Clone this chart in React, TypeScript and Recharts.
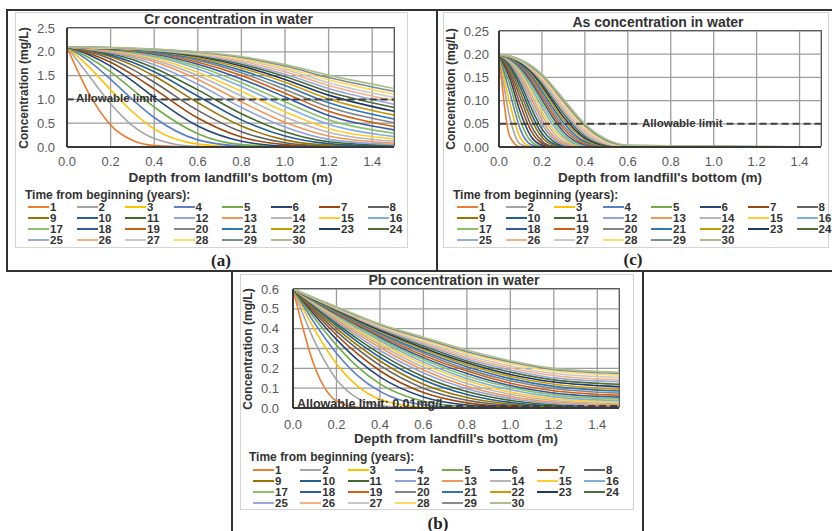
import React from "react";
import { CartesianGrid, Line, LineChart, ReferenceLine, XAxis, YAxis } from "recharts";

const FONT = '"Liberation Sans", Arial, sans-serif';

const years = [
  1, 2, 3, 4, 5, 6, 7, 8, 9, 10, 11, 12, 13, 14, 15,
  16, 17, 18, 19, 20, 21, 22, 23, 24, 25, 26, 27, 28, 29, 30,
];

const seriesColors = [
  "#ED7D31", "#A5A5A5", "#FFC000", "#5B7FC8", "#70AD47", "#264478", "#9E480E", "#636363",
  "#997300", "#255E91", "#43682B", "#8FA2DA", "#F1975A", "#B7B7B7", "#FFCD33", "#7CAFDD",
  "#8CC168", "#335AA1", "#D26012", "#848484", "#2E75B6", "#CC9A00", "#1F3864", "#4E6E3A",
  "#9AA8DC", "#F4B183", "#C9C9C9", "#FFD966", "#7F8C8D", "#A9C191",
];

const depthTicks = [0, 0.2, 0.4, 0.6, 0.8, 1.0, 1.2, 1.4];

// Cr
const crDepth = [0, 0.1, 0.2, 0.3, 0.4, 0.6, 0.8, 1.0, 1.2, 1.5];
const crTicks = [0, 0.5, 1.0, 1.5, 2.0, 2.5];
const crValues = [
  [2.1, 1.13, 0.46, 0.14, 0.03, 0, 0, 0, 0, 0],
  [2.1, 1.5, 0.91, 0.45, 0.18, 0.01, 0, 0, 0, 0],
  [2.1, 1.69, 1.2, 0.74, 0.38, 0.06, 0, 0, 0, 0],
  [2.1, 1.81, 1.42, 1.0, 0.62, 0.15, 0.02, 0, 0, 0],
  [2.1, 1.88, 1.58, 1.21, 0.84, 0.28, 0.05, 0.01, 0, 0],
  [2.1, 1.94, 1.7, 1.39, 1.04, 0.44, 0.12, 0.02, 0, 0],
  [2.1, 1.97, 1.78, 1.52, 1.22, 0.61, 0.21, 0.05, 0.01, 0],
  [2.1, 2.0, 1.85, 1.63, 1.36, 0.77, 0.32, 0.09, 0.02, 0],
  [2.1, 2.02, 1.9, 1.72, 1.49, 0.93, 0.44, 0.15, 0.04, 0.01],
  [2.1, 2.04, 1.93, 1.78, 1.58, 1.07, 0.57, 0.23, 0.07, 0.01],
  [2.1, 2.05, 1.96, 1.84, 1.66, 1.2, 0.7, 0.32, 0.11, 0.03],
  [2.1, 2.05, 1.98, 1.88, 1.73, 1.32, 0.83, 0.42, 0.16, 0.05],
  [2.1, 2.06, 2.0, 1.91, 1.79, 1.42, 0.95, 0.52, 0.23, 0.08],
  [2.1, 2.07, 2.02, 1.94, 1.83, 1.5, 1.07, 0.63, 0.31, 0.12],
  [2.1, 2.07, 2.03, 1.96, 1.87, 1.57, 1.17, 0.74, 0.39, 0.17],
  [2.1, 2.08, 2.04, 1.98, 1.9, 1.64, 1.27, 0.85, 0.48, 0.22],
  [2.1, 2.08, 2.05, 2.0, 1.92, 1.69, 1.35, 0.95, 0.57, 0.29],
  [2.1, 2.08, 2.05, 2.01, 1.95, 1.74, 1.43, 1.05, 0.66, 0.36],
  [2.1, 2.09, 2.06, 2.02, 1.97, 1.78, 1.5, 1.13, 0.75, 0.43],
  [2.1, 2.09, 2.06, 2.03, 1.98, 1.82, 1.56, 1.21, 0.84, 0.51],
  [2.1, 2.09, 2.07, 2.04, 1.99, 1.85, 1.61, 1.29, 0.93, 0.59],
  [2.1, 2.09, 2.07, 2.04, 2.01, 1.87, 1.66, 1.36, 1.01, 0.67],
  [2.1, 2.09, 2.07, 2.05, 2.02, 1.9, 1.7, 1.42, 1.09, 0.75],
  [2.1, 2.09, 2.08, 2.05, 2.02, 1.92, 1.74, 1.48, 1.16, 0.83],
  [2.1, 2.09, 2.08, 2.06, 2.03, 1.94, 1.77, 1.53, 1.23, 0.9],
  [2.1, 2.09, 2.08, 2.06, 2.04, 1.95, 1.8, 1.58, 1.29, 0.97],
  [2.1, 2.09, 2.08, 2.07, 2.04, 1.96, 1.83, 1.63, 1.35, 1.04],
  [2.1, 2.09, 2.08, 2.07, 2.05, 1.98, 1.85, 1.66, 1.41, 1.11],
  [2.1, 2.1, 2.09, 2.07, 2.05, 1.99, 1.88, 1.7, 1.46, 1.17],
  [2.1, 2.1, 2.09, 2.08, 2.06, 2.0, 1.9, 1.73, 1.51, 1.23],
];

// As
const asDepth = [0, 0.05, 0.1, 0.15, 0.2, 0.25, 0.3, 0.4, 0.5, 0.6, 1.5];
const asTicks = [0, 0.05, 0.1, 0.15, 0.2, 0.25];
const asValues = [
  [0.2, 0.023, 0, 0, 0, 0, 0, 0, 0, 0, 0],
  [0.2, 0.064, 0.006, 0, 0, 0, 0, 0, 0, 0, 0],
  [0.2, 0.095, 0.019, 0.001, 0, 0, 0, 0, 0, 0, 0],
  [0.2, 0.118, 0.037, 0.005, 0, 0, 0, 0, 0, 0, 0],
  [0.2, 0.135, 0.056, 0.012, 0.001, 0, 0, 0, 0, 0, 0],
  [0.2, 0.148, 0.074, 0.022, 0.004, 0, 0, 0, 0, 0, 0],
  [0.2, 0.157, 0.09, 0.034, 0.008, 0.001, 0, 0, 0, 0, 0],
  [0.2, 0.164, 0.105, 0.046, 0.013, 0.002, 0, 0, 0, 0, 0],
  [0.2, 0.17, 0.117, 0.06, 0.021, 0.005, 0.001, 0, 0, 0, 0],
  [0.2, 0.174, 0.128, 0.072, 0.029, 0.008, 0.002, 0, 0, 0, 0],
  [0.2, 0.178, 0.137, 0.084, 0.039, 0.013, 0.003, 0, 0, 0, 0],
  [0.2, 0.181, 0.144, 0.095, 0.049, 0.019, 0.005, 0, 0, 0, 0],
  [0.2, 0.184, 0.151, 0.105, 0.059, 0.025, 0.008, 0, 0, 0, 0],
  [0.2, 0.185, 0.156, 0.113, 0.068, 0.033, 0.012, 0.001, 0, 0, 0],
  [0.2, 0.187, 0.161, 0.121, 0.077, 0.04, 0.017, 0.001, 0, 0, 0],
  [0.2, 0.188, 0.165, 0.128, 0.086, 0.048, 0.022, 0.002, 0, 0, 0],
  [0.2, 0.189, 0.168, 0.135, 0.094, 0.056, 0.027, 0.003, 0, 0, 0],
  [0.2, 0.19, 0.171, 0.14, 0.102, 0.064, 0.033, 0.005, 0, 0, 0],
  [0.2, 0.191, 0.174, 0.145, 0.109, 0.071, 0.04, 0.007, 0.001, 0, 0],
  [0.2, 0.192, 0.176, 0.15, 0.115, 0.078, 0.046, 0.01, 0.001, 0, 0],
  [0.2, 0.193, 0.178, 0.154, 0.121, 0.085, 0.053, 0.012, 0.002, 0, 0],
  [0.2, 0.193, 0.18, 0.158, 0.127, 0.092, 0.059, 0.016, 0.002, 0, 0],
  [0.2, 0.194, 0.181, 0.161, 0.132, 0.098, 0.065, 0.019, 0.003, 0, 0],
  [0.2, 0.194, 0.183, 0.164, 0.137, 0.104, 0.072, 0.023, 0.004, 0, 0],
  [0.2, 0.195, 0.184, 0.166, 0.141, 0.11, 0.078, 0.027, 0.006, 0.001, 0],
  [0.2, 0.195, 0.185, 0.168, 0.145, 0.115, 0.083, 0.032, 0.007, 0.001, 0],
  [0.2, 0.195, 0.186, 0.171, 0.148, 0.12, 0.089, 0.037, 0.009, 0.001, 0],
  [0.2, 0.196, 0.187, 0.173, 0.151, 0.124, 0.095, 0.041, 0.012, 0.002, 0],
  [0.2, 0.196, 0.188, 0.174, 0.154, 0.128, 0.099, 0.046, 0.014, 0.003, 0],
  [0.2, 0.196, 0.188, 0.176, 0.157, 0.132, 0.104, 0.05, 0.017, 0.004, 0],
];

// Pb
const pbDepth = [0, 0.1, 0.2, 0.3, 0.4, 0.6, 0.8, 1.0, 1.2, 1.5];
const pbTicks = [0, 0.1, 0.2, 0.3, 0.4, 0.5, 0.6];
const pbValues = [
  [0.6, 0.207, 0.036, 0.003, 0, 0, 0, 0, 0, 0],
  [0.6, 0.335, 0.144, 0.047, 0.011, 0, 0, 0, 0, 0],
  [0.6, 0.394, 0.223, 0.108, 0.044, 0.004, 0, 0, 0, 0],
  [0.6, 0.427, 0.276, 0.161, 0.084, 0.016, 0.002, 0, 0, 0],
  [0.6, 0.451, 0.317, 0.205, 0.122, 0.034, 0.007, 0.001, 0, 0],
  [0.6, 0.468, 0.346, 0.24, 0.157, 0.056, 0.015, 0.003, 0, 0],
  [0.6, 0.48, 0.368, 0.27, 0.188, 0.078, 0.026, 0.007, 0.001, 0],
  [0.6, 0.491, 0.386, 0.294, 0.215, 0.1, 0.039, 0.013, 0.004, 0.001],
  [0.6, 0.499, 0.402, 0.314, 0.237, 0.12, 0.053, 0.02, 0.006, 0.002],
  [0.6, 0.507, 0.415, 0.331, 0.256, 0.141, 0.068, 0.028, 0.011, 0.004],
  [0.6, 0.511, 0.426, 0.346, 0.274, 0.158, 0.083, 0.038, 0.016, 0.006],
  [0.6, 0.517, 0.436, 0.36, 0.29, 0.177, 0.097, 0.048, 0.023, 0.011],
  [0.6, 0.522, 0.444, 0.371, 0.305, 0.192, 0.11, 0.058, 0.03, 0.016],
  [0.6, 0.525, 0.452, 0.382, 0.318, 0.206, 0.124, 0.069, 0.038, 0.022],
  [0.6, 0.528, 0.458, 0.391, 0.328, 0.22, 0.137, 0.08, 0.046, 0.028],
  [0.6, 0.532, 0.464, 0.4, 0.339, 0.232, 0.149, 0.092, 0.056, 0.037],
  [0.6, 0.534, 0.469, 0.407, 0.348, 0.244, 0.161, 0.104, 0.066, 0.045],
  [0.6, 0.537, 0.474, 0.415, 0.357, 0.254, 0.174, 0.113, 0.076, 0.055],
  [0.6, 0.539, 0.478, 0.421, 0.365, 0.265, 0.186, 0.125, 0.087, 0.064],
  [0.6, 0.541, 0.483, 0.427, 0.372, 0.276, 0.196, 0.137, 0.098, 0.075],
  [0.6, 0.543, 0.486, 0.431, 0.378, 0.285, 0.208, 0.148, 0.109, 0.086],
  [0.6, 0.545, 0.49, 0.436, 0.385, 0.295, 0.218, 0.159, 0.12, 0.095],
  [0.6, 0.546, 0.493, 0.44, 0.391, 0.303, 0.228, 0.169, 0.131, 0.108],
  [0.6, 0.547, 0.496, 0.445, 0.397, 0.312, 0.237, 0.181, 0.142, 0.12],
  [0.6, 0.549, 0.499, 0.449, 0.402, 0.321, 0.247, 0.192, 0.152, 0.133],
  [0.6, 0.551, 0.502, 0.453, 0.407, 0.328, 0.256, 0.202, 0.164, 0.143],
  [0.6, 0.552, 0.504, 0.457, 0.411, 0.334, 0.266, 0.212, 0.174, 0.155],
  [0.6, 0.553, 0.506, 0.461, 0.416, 0.343, 0.276, 0.223, 0.185, 0.166],
  [0.6, 0.554, 0.508, 0.463, 0.42, 0.35, 0.284, 0.232, 0.194, 0.174],
  [0.6, 0.555, 0.51, 0.466, 0.424, 0.357, 0.292, 0.238, 0.2, 0.18],
];

function buildRows(depth: number[], values: number[][]) {
  return depth.map((x, i) => {
    const row: Record<string, number> = { x };
    values.forEach((v, k) => {
      row[`t${k + 1}`] = v[i];
    });
    return row;
  });
}

type PanelSpec = {
  title: string;
  depth: number[];
  values: number[][];
  yTicks: number[];
  yMax: number;
  yDecimals: number;
  plotX: number;
  plotY: number;
  plotW: number;
  plotH: number;
  yGap: number;
  xGap: number;
  yTitleX: number;
  limit: number;
  limitSegments: number[][];
  limitText: string;
  limitTextX: number;
  limitTextDy: number;
  limitTextSize: number;
  legendX: number;
  legendHeadX: number;
  legendHeadY: number;
  legendPitch: number;
  legendRows: number[];
};

const txt = (
  x: number,
  y: number,
  s: string,
  size: number,
  opts: { bold?: boolean; anchor?: "start" | "middle"; color?: string; rotate?: boolean; family?: string } = {},
) => (
  <div
    style={{
      position: "absolute",
      left: x,
      top: y,
      transform: `translate(${opts.anchor === "start" ? "0" : "-50%"}, -50%)${opts.rotate ? " rotate(-90deg)" : ""}`,
      whiteSpace: "nowrap",
      fontSize: size,
      fontWeight: opts.bold ? 700 : 400,
      color: opts.color ?? "#333",
      lineHeight: 1,
      fontFamily: opts.family ?? FONT,
    }}
  >
    {s}
  </div>
);

function Panel({ spec }: { spec: PanelSpec }) {
  const { plotX, plotY, plotW, plotH } = spec;
  const padL = 60;
  const padT = 10;
  const padR = 10;
  const padB = 34;
  const rows = buildRows(spec.depth, spec.values);
  const limitY = plotY + plotH - (spec.limit / spec.yMax) * plotH;
  const bottom = plotY + plotH;
  const cx = plotX + plotW / 2;

  return (
    <>
      {txt(cx - 2, plotY - 9, spec.title, 14, { bold: true })}
      <div style={{ position: "absolute", left: plotX - padL, top: plotY - padT }}>
        <LineChart
          width={plotW + padL + padR}
          height={plotH + padT + padB}
          data={rows}
          margin={{ top: padT, right: padR, bottom: 0, left: 0 }}
        >
          <CartesianGrid stroke="#9d9d9d" strokeWidth={1.3} />
          <XAxis
            type="number"
            dataKey="x"
            domain={[0, 1.5]}
            ticks={depthTicks}
            interval={0}
            height={padB}
            tickLine={false}
            tickSize={0}
            tickMargin={spec.xGap}
            axisLine={{ stroke: "#3a3a3a", strokeWidth: 2 }}
            tick={{ fill: "#595959", fontSize: 13, fontFamily: FONT }}
            tickFormatter={(v: number) => v.toFixed(1)}
          />
          <YAxis
            type="number"
            domain={[0, spec.yMax]}
            ticks={spec.yTicks}
            interval={0}
            width={padL}
            tickLine={false}
            tickSize={0}
            tickMargin={spec.yGap}
            axisLine={{ stroke: "#3a3a3a", strokeWidth: 2 }}
            tick={{ fill: "#595959", fontSize: 13, fontFamily: FONT }}
            tickFormatter={(v: number) => v.toFixed(spec.yDecimals)}
          />
          {spec.values.map((_, k) => (
            <Line
              key={k}
              type="monotone"
              dataKey={`t${k + 1}`}
              stroke={seriesColors[k]}
              strokeWidth={1.6}
              dot={false}
              activeDot={false}
              isAnimationActive={false}
            />
          ))}
          {spec.limitSegments.map((seg, i) => (
            <ReferenceLine
              key={i}
              segment={[
                { x: seg[0], y: spec.limit },
                { x: seg[1], y: spec.limit },
              ]}
              stroke="#404040"
              strokeWidth={2}
              strokeDasharray="7 4"
            />
          ))}
        </LineChart>
      </div>
      <div
        style={{
          position: "absolute",
          left: plotX,
          top: plotY - 0.75,
          width: plotW + 0.75,
          height: plotH,
          borderTop: "1.5px solid #5a5a5a",
          borderRight: "1.5px solid #5a5a5a",
          boxSizing: "border-box",
        }}
      />
      {txt(spec.limitTextX, limitY + spec.limitTextDy, spec.limitText, spec.limitTextSize, { bold: true, anchor: "start" })}
      {txt(cx, bottom + 31, "Depth from landfill's bottom (m)", 13.5, { bold: true })}
      {txt(spec.yTitleX, plotY + plotH / 2, "Concentration (mg/L)", 12, { bold: true, rotate: true })}
      {txt(spec.legendHeadX, spec.legendHeadY, "Time from beginning (years):", 12, { bold: true, anchor: "start" })}
      {years.map((yr, i) => {
        const col = i % 8;
        const row = Math.floor(i / 8);
        return (
          <div
            key={yr}
            style={{
              position: "absolute",
              left: spec.legendX + col * spec.legendPitch,
              top: spec.legendRows[row] - 6,
              height: 12,
              display: "flex",
              alignItems: "center",
              whiteSpace: "nowrap",
            }}
          >
            <div style={{ width: 21, height: 2.5, background: seriesColors[i] }} />
            <span
              style={{
                marginLeft: 1,
                fontSize: 11.5,
                fontWeight: 700,
                color: "#333",
                lineHeight: "12px",
                fontFamily: FONT,
              }}
            >
              {yr}
            </span>
          </div>
        );
      })}
    </>
  );
}

const crSpec: PanelSpec = {
  title: "Cr concentration in water",
  depth: crDepth,
  values: crValues,
  yTicks: crTicks,
  yMax: 2.5,
  yDecimals: 1,
  plotX: 67,
  plotY: 28,
  plotW: 327,
  plotH: 119,
  yGap: 12,
  xGap: 10,
  yTitleX: 24,
  limit: 1.0,
  limitSegments: [
    [0, 0.03],
    [0.43, 1.5],
  ],
  limitText: "Allowable limit",
  limitTextX: 76,
  limitTextDy: 0,
  limitTextSize: 11.5,
  legendX: 28,
  legendHeadX: 25,
  legendHeadY: 195,
  legendPitch: 48.5,
  legendRows: [207, 218, 229, 240],
};

const asSpec: PanelSpec = {
  title: "As concentration in water",
  depth: asDepth,
  values: asValues,
  yTicks: asTicks,
  yMax: 0.25,
  yDecimals: 2,
  plotX: 499,
  plotY: 31,
  plotW: 322,
  plotH: 116,
  yGap: 10,
  xGap: 10,
  yTitleX: 451,
  limit: 0.05,
  limitSegments: [
    [0, 0.645],
    [1.06, 1.5],
  ],
  limitText: "Allowable limit",
  limitTextX: 642,
  limitTextDy: 0,
  limitTextSize: 11.5,
  legendX: 457,
  legendHeadX: 453,
  legendHeadY: 195,
  legendPitch: 48.5,
  legendRows: [207, 218, 229, 240],
};

const pbSpec: PanelSpec = {
  title: "Pb concentration in water",
  depth: pbDepth,
  values: pbValues,
  yTicks: pbTicks,
  yMax: 0.6,
  yDecimals: 1,
  plotX: 293,
  plotY: 289,
  plotW: 326,
  plotH: 119,
  yGap: 14,
  xGap: 12,
  yTitleX: 248,
  limit: 0.01,
  limitSegments: [[0.7, 1.5]],
  limitText: "Allowable limit: 0.01mg/L",
  limitTextX: 297,
  limitTextDy: -2,
  limitTextSize: 12.5,
  legendX: 253,
  legendHeadX: 249,
  legendHeadY: 457,
  legendPitch: 47.3,
  legendRows: [470, 481, 492, 503],
};

const line = (l: number, t: number, w: number, h: number, c = "#333") => (
  <div style={{ position: "absolute", left: l, top: t, width: w, height: h, background: c }} />
);

const box = (l: number, t: number, r: number, b: number) => (
  <div
    style={{
      position: "absolute",
      left: l,
      top: t,
      width: r - l,
      height: b - t,
      border: "1px solid #d4d4d4",
      boxSizing: "border-box",
    }}
  />
);

export default function App() {
  return (
    <div
      style={{
        position: "absolute",
        left: 0,
        top: 0,
        width: 832,
        height: 531,
        background: "#fff",
        overflow: "hidden",
      }}
    >
      {line(6, 9, 826, 1.5)}
      {line(6, 9, 1.5, 262)}
      {line(436, 9, 1.5, 262)}
      {line(6, 270, 826, 1.5)}
      {line(231, 270, 1.5, 261)}
      {line(642, 270, 1.5, 261)}
      {box(15, 12, 408, 248)}
      {box(443, 12, 829, 248)}
      {box(240, 274, 634, 510)}
      <Panel spec={crSpec} />
      <Panel spec={asSpec} />
      <Panel spec={pbSpec} />
      {txt(221, 260, "(a)", 17, { bold: true, family: '"Liberation Serif", "Times New Roman", serif', color: "#222" })}
      {txt(633, 259, "(c)", 17, { bold: true, family: '"Liberation Serif", "Times New Roman", serif', color: "#222" })}
      {txt(438, 523, "(b)", 17, { bold: true, family: '"Liberation Serif", "Times New Roman", serif', color: "#222" })}
    </div>
  );
}
